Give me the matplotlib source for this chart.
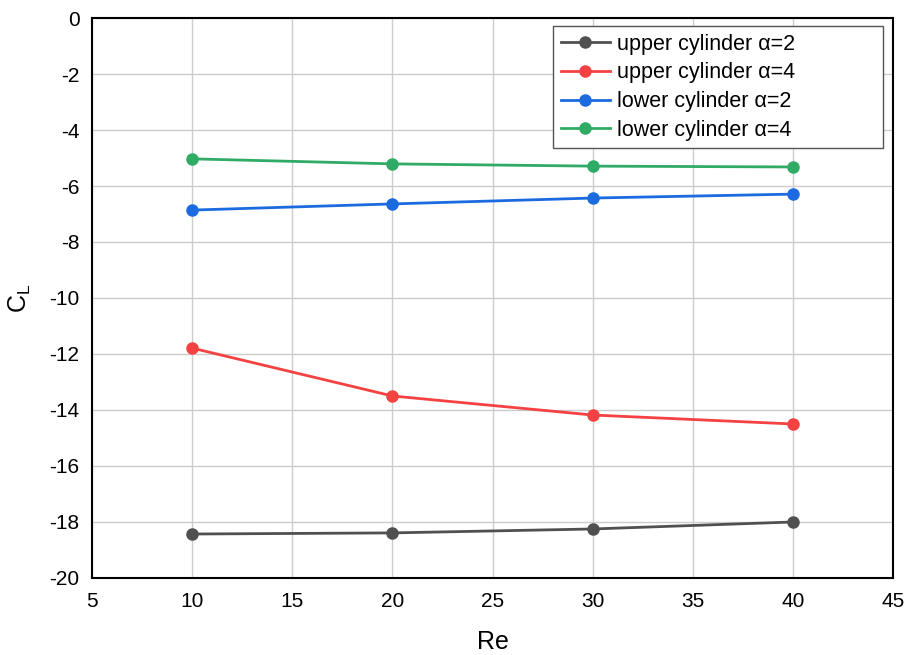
import matplotlib
matplotlib.use("Agg")
import matplotlib.pyplot as plt

plt.rcParams['font.family'] = ['Liberation Sans', 'DejaVu Sans']
plt.rcParams['mathtext.fontset'] = 'custom'
plt.rcParams['mathtext.rm'] = 'Liberation Sans'
plt.rcParams['axes.unicode_minus'] = False

# data
re = [10, 20, 30, 40]
upper_a2 = [-18.43, -18.39, -18.25, -18.0]
upper_a4 = [-11.79, -13.50, -14.18, -14.50]
lower_a2 = [-6.86, -6.64, -6.43, -6.29]
lower_a4 = [-5.03, -5.21, -5.29, -5.32]

labels = ["upper cylinder \u03b1=2", "upper cylinder \u03b1=4",
          "lower cylinder \u03b1=2", "lower cylinder \u03b1=4"]
colors = ["#505050", "#f44242", "#1c6ae0", "#2fab65"]

fig = plt.figure(figsize=(9.05, 6.55), dpi=100)
ax = fig.add_axes([0.1017, 0.1176, 0.8851, 0.8549])

for ys, lab, c in zip([upper_a2, upper_a4, lower_a2, lower_a4], labels, colors):
    ax.plot(re, ys, "-o", color=c, lw=2, ms=8, label=lab)

ax.set_xlim(5, 45)
ax.set_ylim(-20, 0)
ax.set_xticks(range(5, 46, 5))
ax.set_yticks(range(-20, 1, 2))
ax.grid(True, color="#cccccc", lw=1)
ax.set_axisbelow(True)
ax.tick_params(length=0, labelsize=15)
ax.tick_params(axis="x", pad=10)
ax.tick_params(axis="y", pad=9)
for s in ax.spines.values():
    s.set_linewidth(1.5)

ax.set_xlabel("Re", fontsize=18, labelpad=14)
ax.set_ylabel(r"$\mathregular{C_L}$", fontsize=18, labelpad=12)

# legend box is wider than its text in the original
leg = ax.legend(loc="upper left", bbox_to_anchor=(0.5755, 0.0, 0.412, 0.9857),
                mode="expand", fontsize=15.5, framealpha=1, fancybox=False,
                edgecolor="#555555", borderpad=0.35, labelspacing=0.36,
                handlelength=2.3, handletextpad=0.3, borderaxespad=0.0)
leg.get_frame().set_linewidth(1)

fig.savefig("out.png", dpi=100)
